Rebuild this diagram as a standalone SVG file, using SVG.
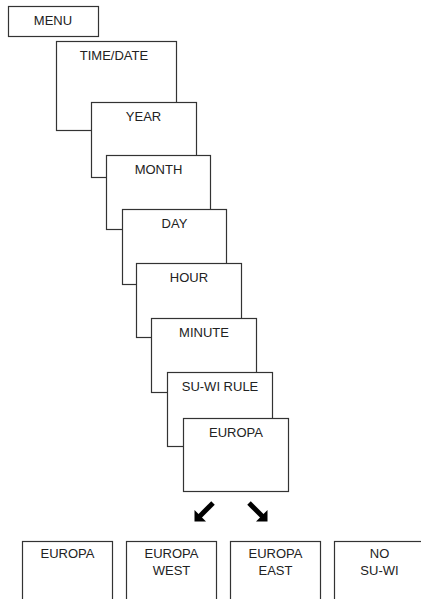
<svg xmlns="http://www.w3.org/2000/svg" width="421" height="599" viewBox="0 0 421 599">
<style>
.box{fill:#fff;stroke:#333;stroke-width:1.2}
.t{font-family:"Liberation Sans",Arial,sans-serif;font-size:13px;fill:#222;text-anchor:middle}
.arr{stroke:#000;stroke-width:5;fill:none}
.head{fill:#000}
</style>
<rect width="421" height="599" fill="#fff"/>
<g id="menu"><rect class="box" x="8.5" y="6.5" width="90" height="30"/><text class="t" x="53" y="25">MENU</text></g>
<g id="timedate"><rect class="box" x="56.5" y="41.5" width="120" height="89"/><text class="t" x="114" y="60">TIME/DATE</text></g>
<g id="year"><rect class="box" x="91.5" y="102.5" width="105" height="75"/><text class="t" x="143.5" y="121">YEAR</text></g>
<g id="month"><rect class="box" x="106.5" y="155.5" width="104" height="74"/><text class="t" x="158.5" y="174">MONTH</text></g>
<g id="day"><rect class="box" x="122.5" y="209.5" width="104" height="75"/><text class="t" x="174.5" y="228">DAY</text></g>
<g id="hour"><rect class="box" x="136.5" y="263.5" width="105" height="74"/><text class="t" x="189" y="282">HOUR</text></g>
<g id="minute"><rect class="box" x="151.5" y="318.5" width="105" height="74"/><text class="t" x="204" y="337">MINUTE</text></g>
<g id="suwirule"><rect class="box" x="167.5" y="372.5" width="105" height="74"/><text class="t" x="220" y="391">SU-WI RULE</text></g>
<g id="europa-main"><rect class="box" x="183.5" y="418.5" width="105" height="73"/><text class="t" x="236" y="437">EUROPA</text></g>
<g id="connectors">
<line class="arr" x1="213" y1="503" x2="199" y2="517"/>
<polygon class="head" points="194.5,521.5 194.5,510 206,521.5"/>
<line class="arr" x1="249" y1="503" x2="263" y2="517"/>
<polygon class="head" points="267.5,521.5 267.5,510 256,521.5"/>
</g>
<g id="opt-europa"><rect class="box" x="22.5" y="541.5" width="90" height="70"/><text class="t" x="67.5" y="558">EUROPA</text></g>
<g id="opt-west"><rect class="box" x="126.5" y="541.5" width="90" height="70"/><text class="t" x="171.5" y="558">EUROPA</text><text class="t" x="171.5" y="575">WEST</text></g>
<g id="opt-east"><rect class="box" x="230.5" y="541.5" width="90" height="70"/><text class="t" x="275.5" y="558">EUROPA</text><text class="t" x="275.5" y="575">EAST</text></g>
<g id="opt-nosuwi"><rect class="box" x="334.5" y="541.5" width="90" height="70"/><text class="t" x="379.5" y="558">NO</text><text class="t" x="379.5" y="575">SU-WI</text></g>
</svg>
